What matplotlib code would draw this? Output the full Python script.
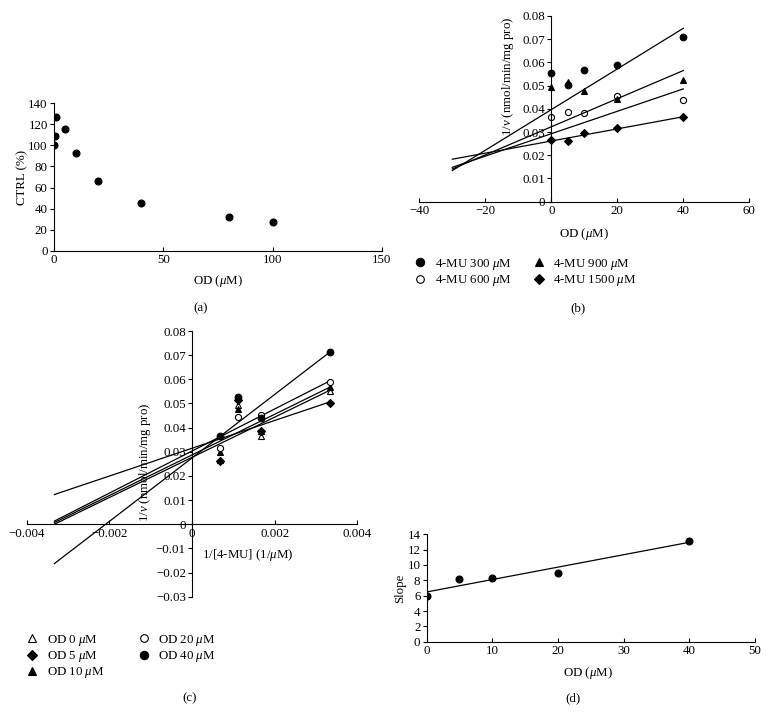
import numpy as np
import matplotlib
matplotlib.use("Agg")
import matplotlib.pyplot as plt

plt.rcParams['font.family'] = ['Liberation Serif', 'DejaVu Serif']
plt.rcParams['mathtext.fontset'] = 'custom'
plt.rcParams['mathtext.rm'] = 'Liberation Serif'
plt.rcParams['mathtext.it'] = 'Liberation Serif:italic'
plt.rcParams['font.size'] = 9.3

# ---------------- data ----------------
# (a) inhibition curve
a_od = [0, 0.5, 1, 5, 10, 20, 40, 80, 100]
a_ctrl = [100, 109, 126.5, 115.5, 93, 66, 45.5, 32, 27]

# (b)/(c) kinetic data: 1/v at each OD concentration, per 4-MU concentration
od = [0, 5, 10, 20, 40]
mu = [300, 600, 900, 1500]
inv_v_mu300 = [0.0553, 0.0501, 0.0567, 0.0589, 0.0711]
inv_v_mu600 = [0.0366, 0.0388, 0.0384, 0.0454, 0.0440]
inv_v_mu900 = [0.0495, 0.0515, 0.0476, 0.0443, 0.0526]
inv_v_mu1500 = [0.0266, 0.0261, 0.0297, 0.0317, 0.0367]

# (b) Dixon plot fitted lines (y at x ends)
b_line_x = [-30, 40]
b_line_mu300 = [0.0134, 0.0747]
b_line_mu600 = [0.0148, 0.0486]
b_line_mu900 = [0.0141, 0.0565]
b_line_mu1500 = [0.0183, 0.0366]

# (c) Lineweaver-Burk fitted lines (y at x ends)
c_line_x = [-0.00333, 0.00333]
c_line_od0 = [0.0000, 0.0554]
c_line_od5 = [0.0123, 0.0506]
c_line_od10 = [0.0007, 0.0567]
c_line_od20 = [0.0013, 0.0593]
c_line_od40 = [-0.0163, 0.0712]

# (d) secondary plot
d_od = [0, 5, 10, 20, 40]
d_slope = [5.9, 8.2, 8.3, 9.0, 13.15]

W, H = 768, 712
fig = plt.figure(figsize=(W / 100, H / 100), dpi=100)


def axrect(l, t, r, b):
    return [l / W, 1 - b / H, (r - l) / W, (b - t) / H]


def ftext(x, y, s, **kw):
    fig.text(x / W, 1 - y / H, s, ha='center', va='center', **kw)


def style(ax):
    ax.spines['top'].set_visible(False)
    ax.spines['right'].set_visible(False)
    ax.tick_params(axis='y', direction='out', length=3, width=0.8, pad=1.5)
    ax.tick_params(axis='x', direction='in', length=3, width=0.8, pad=2.5)
    for s in ax.spines.values():
        s.set_linewidth(0.8)
    ax.patch.set_alpha(0)


mk = dict(color='black', markeredgecolor='black', linestyle='none')
leg_kw = dict(loc='upper left', ncol=2, frameon=False, handlelength=1.0,
              handletextpad=0.6, labelspacing=0.08, borderpad=0,
              borderaxespad=0, markerscale=1.25)

# ---------------- (a) ----------------
axa = fig.add_axes(axrect(54, 103, 382, 251))
style(axa)
axa.plot(a_od, a_ctrl, 'o', markersize=4.8, **mk)
axa.set_xlim(0, 150)
axa.set_ylim(0, 140)
axa.set_xticks([0, 50, 100, 150])
axa.set_yticks(range(0, 141, 20))
ftext(22, 177, 'CTRL (%)', rotation=90)
ftext(218, 281, r'OD ($\mathit{\mu}$M)')
ftext(201, 308, '(a)')

# ---------------- (b) ----------------
axb = fig.add_axes(axrect(419.3, 16, 749.3, 201.7))
style(axb)
axb.spines['left'].set_position(('data', 0))
series_b = [
    (inv_v_mu300, b_line_mu300, 'o', 'black', r'4-MU 300 $\mathit{\mu}$M'),
    (inv_v_mu600, b_line_mu600, 'o', 'white', r'4-MU 600 $\mathit{\mu}$M'),
    (inv_v_mu900, b_line_mu900, '^', 'black', r'4-MU 900 $\mathit{\mu}$M'),
    (inv_v_mu1500, b_line_mu1500, 'D', 'black', r'4-MU 1500 $\mathit{\mu}$M'),
]
handles_b = []
for vals, line, m, fc, lab in series_b:
    axb.plot(b_line_x, line, color='black', lw=0.9)
    ms = 3.8 if m == 'D' else (4.8 if fc == 'black' else 4.4)
    h, = axb.plot(od, vals, m, markersize=ms, markerfacecolor=fc,
                  markeredgecolor='black', markeredgewidth=0.8, linestyle='none', label=lab)
    handles_b.append(h)
axb.set_xlim(-40, 60)
axb.set_ylim(0, 0.08)
axb.set_xticks([-40, -20, 0, 20, 40, 60])
axb.set_yticks(np.arange(0, 0.081, 0.01))
axb.set_yticklabels(['0'] + ['%.2f' % v for v in np.arange(0.01, 0.081, 0.01)])
axb.set_xticklabels(['\u221240', '\u221220', '0', '20', '40', '60'])
ftext(508, 76, r'1/$v$ (nmol/min/mg pro)', rotation=90)
ftext(584, 234, r'OD ($\mathit{\mu}$M)')
fig.legend(handles=handles_b, bbox_to_anchor=(414 / W, 1 - 257 / H),
           columnspacing=1.6, **leg_kw)
ftext(578, 308, '(b)')

# ---------------- (c) ----------------
axc = fig.add_axes(axrect(26.7, 331, 357.3, 596.7))
style(axc)
axc.spines['left'].set_position(('data', 0))
axc.spines['bottom'].set_position(('data', 0))
inv_mu = [1.0 / m for m in mu]
by_mu = [inv_v_mu300, inv_v_mu600, inv_v_mu900, inv_v_mu1500]
series_c = [
    (0, c_line_od0, '^', 'white', r'OD 0 $\mathit{\mu}$M'),
    (1, c_line_od5, 'D', 'black', r'OD 5 $\mathit{\mu}$M'),
    (2, c_line_od10, '^', 'black', r'OD 10 $\mathit{\mu}$M'),
    (3, c_line_od20, 'o', 'white', r'OD 20 $\mathit{\mu}$M'),
    (4, c_line_od40, 'o', 'black', r'OD 40 $\mathit{\mu}$M'),
]
handles_c = []
for idx, line, m, fc, lab in series_c:
    axc.plot(c_line_x, line, color='black', lw=0.9)
for idx, line, m, fc, lab in series_c:
    vals = [col[idx] for col in by_mu]
    ms = 3.8 if m == 'D' else (4.8 if fc == 'black' else 4.4)
    h, = axc.plot(inv_mu, vals, m, markersize=ms, markerfacecolor=fc,
                  markeredgecolor='black', markeredgewidth=0.8, linestyle='none', label=lab)
    handles_c.append(h)
axc.set_xlim(-0.004, 0.004)
axc.set_ylim(-0.03, 0.08)
axc.set_xticks([-0.004, -0.002, 0, 0.002, 0.004])
axc.set_xticklabels(['\u22120.004', '\u22120.002', '0', '0.002', '0.004'])
yt = np.round(np.arange(-0.03, 0.081, 0.01), 2)
axc.set_yticks(yt)
axc.set_yticklabels(['0' if v == 0 else ('%.2f' % v).replace('-', '\u2212') for v in yt])
ftext(145, 462, r'1/$v$ (nmol/min/mg pro)', rotation=90)
ftext(248, 555, r'1/[4-MU] (1/$\mathit{\mu}$M)')
fig.legend(handles=handles_c, bbox_to_anchor=(26 / W, 1 - 633 / H),
           columnspacing=2.6, **leg_kw)
ftext(190, 698, '(c)')

# ---------------- (d) ----------------
axd = fig.add_axes(axrect(426.7, 534.3, 754.7, 641.7))
style(axd)
axd.plot(d_od, d_slope, 'o', markersize=4.8, **mk)
k, c0 = np.polyfit(d_od, d_slope, 1)
xl = np.array([min(d_od), max(d_od)])
axd.plot(xl, k * xl + c0, color='black', lw=0.9)
axd.set_xlim(0, 50)
axd.set_ylim(0, 14)
axd.set_xticks(range(0, 51, 10))
axd.set_yticks(range(0, 15, 2))
ftext(400, 588, 'Slope', rotation=90)
ftext(588, 673, r'OD ($\mathit{\mu}$M)')
ftext(573, 698, '(d)')

fig.savefig('out.png', dpi=100)
